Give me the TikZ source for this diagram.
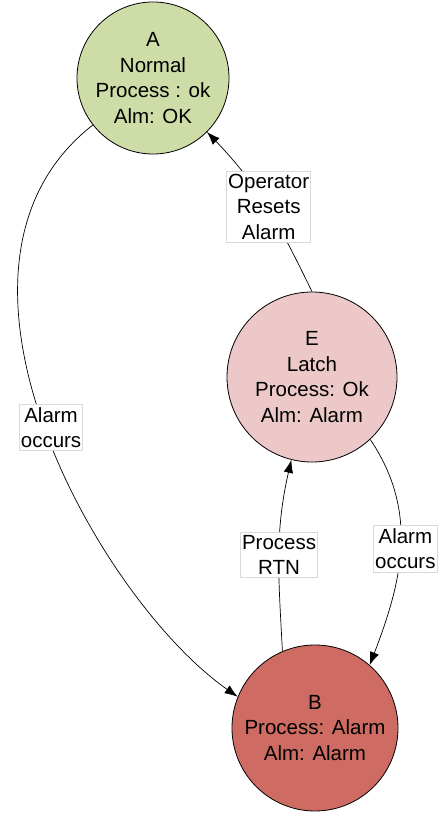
\documentclass[tikz,border=0pt]{standalone}
\usepackage{fontspec}
\setmainfont{Liberation Sans}
\usetikzlibrary{arrows.meta}
\definecolor{okgreen}{RGB}{206,221,168}
\definecolor{latchpink}{RGB}{236,200,200}
\definecolor{alarmred}{RGB}{206,108,100}
\begin{document}
\begin{tikzpicture}[x=1pt,y=1pt,>={Latex[length=13pt,width=9.5pt]},
  font=\fontsize{20.5}{25.5}\selectfont,
  state/.style={circle,draw,line width=0.8pt,align=center,inner sep=0pt},
  lbl/.style={draw=black!15,fill=white,align=center,inner xsep=1.5pt,inner ysep=3pt}]
\useasboundingbox (0,0) rectangle (441,814);

\node[state,fill=okgreen,minimum size=152pt] (A) at (153,736) {A\\Normal\\Process : ok\\Alm: OK};
\node[state,fill=latchpink,minimum size=170pt] (E) at (312,437) {E\\Latch\\Process: Ok\\Alm: Alarm};
\node[state,fill=alarmred,minimum size=166pt] (B) at (315,86) {B\\Process: Alarm\\Alm: Alarm};

\draw[->,line width=0.7pt] (A.218) .. controls +(218:230) and +(145:170) .. (B.158)
   node[lbl,pos=0.5,xshift=6pt] (occ1) {Alarm\\occurs};
\draw[->,line width=0.7pt] (E.90) to[out=116,in=-46]
   node[lbl,pos=0.5,xshift=2pt] (reset) {Operator\\Resets\\Alarm} (A.-45);
\draw[->,line width=0.7pt] (B.113) to[out=93,in=257]
   node[lbl,pos=0.5] (rtn) {Process\\RTN} (E.256);
\draw[->,line width=0.7pt] (E.-47) to[out=-56,in=69]
   node[lbl,pos=0.5,xshift=5pt] (occ2) {Alarm\\occurs} (B.49);

\end{tikzpicture}
\end{document}
